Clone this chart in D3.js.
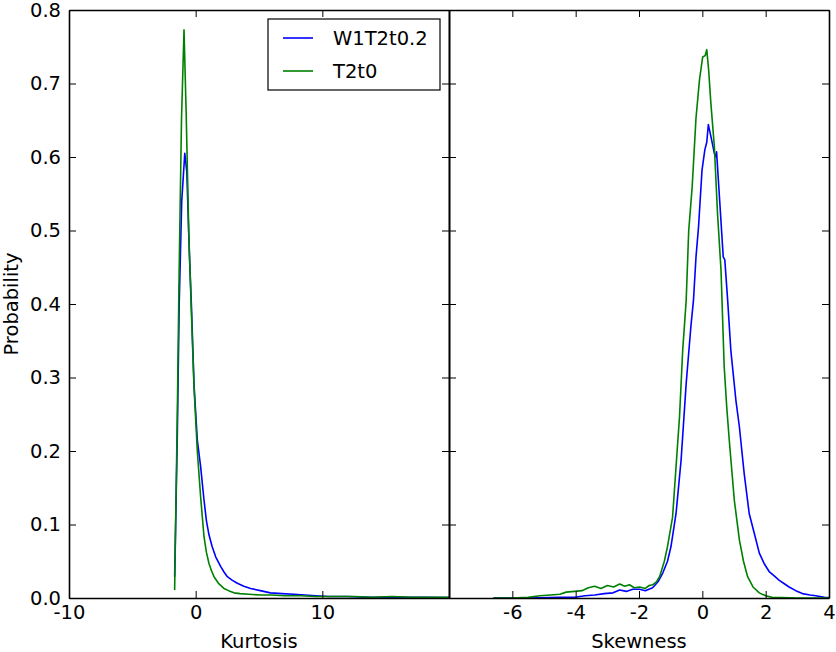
<!DOCTYPE html>
<html>
<head>
<meta charset="utf-8">
<script src="https://cdn.jsdelivr.net/npm/d3@7"></script>
<style>
  body { margin: 0; background: #fff; }
  text { font-family: "DejaVu Sans", sans-serif; fill: #000; }
</style>
</head>
<body>
<svg id="chart" width="836" height="652"></svg>
<script>
// series names + colours
var seriesNames = ["W1T2t0.2", "T2t0"];
var seriesColors = ["#0000ff", "#008000"];

// kurtosis histogram [x, probability]
var kurtBlue = [[-1.66,0.029],[-1.45,0.22],[-1.3,0.4],[-1.1,0.54],[-0.86,0.605],[-0.7,0.58],[-0.5,0.47],
  [-0.34,0.4],[-0.13,0.29],[0.13,0.215],[0.39,0.179],[0.66,0.133],[0.85,0.105],[1.05,0.086],[1.3,0.07],
  [1.58,0.056],[1.97,0.043],[2.25,0.035],[2.5,0.029],[2.9,0.024],[3.29,0.02],[3.8,0.016],[4.34,0.013],
  [5.1,0.01],[5.9,0.007],[6.8,0.006],[7.76,0.005],[8.6,0.004],[9.5,0.003],[10.5,0.002],[12,0.002],
  [13.5,0.001],[15,0.001],[16.5,0.001],[18,0.001],[20,0.0005]];
var kurtGreen = [[-1.66,0.011],[-1.45,0.25],[-1.3,0.45],[-1.12,0.65],[-0.92,0.773],[-0.75,0.66],[-0.55,0.5],
  [-0.34,0.39],[-0.13,0.287],[0.13,0.2],[0.39,0.138],[0.66,0.083],[0.85,0.062],[1.05,0.047],[1.25,0.037],
  [1.45,0.029],[1.8,0.02],[2.23,0.013],[2.6,0.01],[3.02,0.007],[3.5,0.006],[4.2,0.005],[5.1,0.004],
  [6,0.004],[7,0.003],[8.3,0.003],[9.5,0.002],[11,0.002],[12.5,0.002],[14,0.001],[15.5,0.002],
  [17,0.001],[18.5,0.001],[20,0.001]];

// skewness histogram
var skewBlue = [[-6.6,0],[-5.5,0],[-4.5,0.001],[-4.03,0.001],[-3.7,0.003],[-3.4,0.004],[-3.1,0.006],
  [-2.82,0.007],[-2.61,0.011],[-2.4,0.009],[-2.2,0.012],[-1.98,0.012],[-1.8,0.01],[-1.57,0.014],
  [-1.4,0.022],[-1.25,0.034],[-1.1,0.05],[-0.99,0.07],[-0.83,0.115],[-0.67,0.188],[-0.51,0.292],
  [-0.36,0.37],[-0.28,0.405],[-0.2,0.464],[-0.12,0.505],[-0.01,0.582],[0.08,0.61],[0.14,0.62],
  [0.19,0.644],[0.27,0.628],[0.38,0.605],[0.43,0.6],[0.45,0.607],[0.54,0.546],[0.66,0.464],[0.71,0.46],
  [0.8,0.405],[0.9,0.337],[1.06,0.269],[1.17,0.233],[1.32,0.17],[1.48,0.115],[1.64,0.088],[1.8,0.061],
  [1.95,0.047],[2.11,0.036],[2.27,0.03],[2.43,0.024],[2.6,0.019],[2.74,0.015],[2.95,0.01],[3.16,0.006],
  [3.4,0.004],[3.58,0.003],[3.85,0.001],[4.0,0.0005]];
var skewGreen = [[-6.6,0],[-6,0],[-5.5,0.001],[-5.13,0.003],[-4.8,0.004],[-4.5,0.005],[-4.3,0.008],
  [-4.03,0.009],[-3.8,0.01],[-3.6,0.014],[-3.4,0.016],[-3.2,0.013],[-3.0,0.017],[-2.8,0.015],
  [-2.61,0.019],[-2.45,0.016],[-2.3,0.018],[-2.15,0.014],[-1.98,0.015],[-1.8,0.013],[-1.68,0.017],
  [-1.57,0.018],[-1.45,0.022],[-1.35,0.029],[-1.2,0.05],[-1.1,0.07],[-0.94,0.11],[-0.83,0.179],
  [-0.72,0.247],[-0.62,0.337],[-0.51,0.405],[-0.43,0.5],[-0.32,0.56],[-0.2,0.653],[-0.09,0.705],
  [0.01,0.736],[0.09,0.738],[0.14,0.746],[0.2,0.718],[0.27,0.673],[0.38,0.614],[0.48,0.523],
  [0.59,0.446],[0.69,0.315],[0.77,0.26],[0.85,0.215],[1.01,0.133],[1.17,0.079],[1.3,0.05],
  [1.43,0.029],[1.6,0.015],[1.8,0.007],[2.0,0.003],[2.2,0.001],[2.5,0.0005],[3,0],[3.5,0],[4,0]];

var yTicks = [0, 0.1, 0.2, 0.3, 0.4, 0.5, 0.6, 0.7, 0.8];
var kurtTicks = [-10, 0, 10, 20];
var skewTicks = [-8, -6, -4, -2, 0, 2, 4];

var svg = d3.select("#chart");
var top_ = 10, bottom = 598, tick = 7, fs = "19.5px";

var y = d3.scaleLinear().domain([0, 0.8]).range([bottom, top_]);

function drawPanel(id, x0, x1, domain, ticks, data, xlabel, showY) {
  var x = d3.scaleLinear().domain(domain).range([x0, x1]);
  var g = svg.append("g");

  g.append("clipPath").attr("id", id)
    .append("rect").attr("x", x0).attr("y", top_).attr("width", x1 - x0).attr("height", bottom - top_);

  var line = d3.line().x(d => x(d[0])).y(d => y(d[1]));
  g.append("g").attr("clip-path", "url(#" + id + ")")
    .selectAll("path").data(data).enter()
    .append("path")
      .attr("d", d => line(d))
      .attr("fill", "none")
      .attr("stroke", (d, i) => seriesColors[i])
      .attr("stroke-width", 1.6)
      .attr("stroke-linejoin", "round");

  // labelled bottom axis, hide end labels that sit on the shared edge
  var lab = ticks.filter(t => t !== domain[0] || id === "kclip").filter(t => t !== domain[1] || id === "sclip");
  var bx = g.append("g").attr("transform", "translate(0," + bottom + ")")
    .call(d3.axisBottom(x).tickValues(ticks).tickSizeInner(-tick).tickSizeOuter(0).tickPadding(7)
      .tickFormat(t => lab.includes(t) ? String(t) : ""));
  var tx = g.append("g").attr("transform", "translate(0," + top_ + ")")
    .call(d3.axisTop(x).tickValues(ticks).tickSizeInner(-tick).tickSizeOuter(0).tickFormat(""));

  var ly = g.append("g").attr("transform", "translate(" + x0 + ",0)")
    .call(d3.axisLeft(y).tickValues(yTicks).tickSizeInner(-tick).tickSizeOuter(0).tickPadding(8)
      .tickFormat(showY ? d3.format(".1f") : ""));
  var ry = g.append("g").attr("transform", "translate(" + x1 + ",0)")
    .call(d3.axisRight(y).tickValues(yTicks).tickSizeInner(-tick).tickSizeOuter(0).tickFormat(""));

  [bx, tx, ly, ry].forEach(a => {
    a.select(".domain").attr("stroke", "#000").attr("stroke-width", 1.6);
    a.selectAll(".tick line").attr("stroke", "#000").attr("stroke-width", 1);
    a.selectAll(".tick text").style("font-size", fs).attr("fill", "#000");
  });

  g.append("text")
    .attr("x", (x0 + x1) / 2).attr("y", 648)
    .attr("text-anchor", "middle")
    .style("font-size", fs)
    .text(xlabel);
}

drawPanel("kclip", 69, 449, [-10, 20], kurtTicks, [kurtBlue, kurtGreen], "Kurtosis", true);
drawPanel("sclip", 449, 829, [-8, 4], skewTicks, [skewBlue, skewGreen], "Skewness", false);

svg.append("text")
  .attr("transform", "translate(18," + (top_ + bottom) / 2 + ") rotate(-90)")
  .attr("text-anchor", "middle")
  .style("font-size", fs)
  .text("Probability");

// legend
var leg = svg.append("g");
leg.append("rect")
  .attr("x", 268).attr("y", 19).attr("width", 172).attr("height", 71)
  .attr("fill", "#fff").attr("stroke", "#000").attr("stroke-width", 1.2);
var items = leg.selectAll(".item").data(seriesNames).enter()
  .append("g").attr("transform", (d, i) => "translate(0," + (38 + i * 33) + ")");
items.append("line")
  .attr("x1", 283).attr("x2", 313)
  .attr("stroke", (d, i) => seriesColors[i]).attr("stroke-width", 1.6);
items.append("text")
  .attr("x", 333).attr("dy", "0.35em")
  .style("font-size", fs)
  .text(d => d);
</script>
</body>
</html>
